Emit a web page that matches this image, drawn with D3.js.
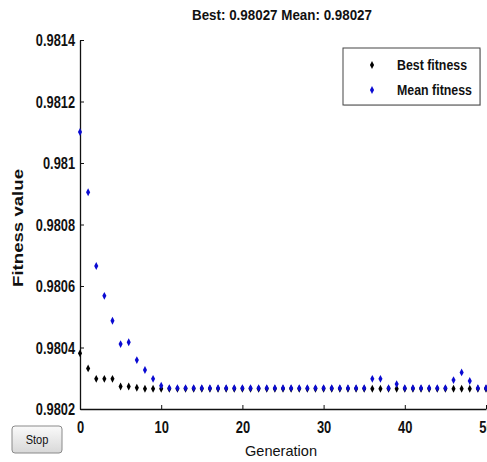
<!DOCTYPE html>
<html>
<head>
<meta charset="utf-8">
<script src="https://cdn.jsdelivr.net/npm/d3@7"></script>
<style>
  body { margin: 0; background: #fff; }
  svg { display: block; }
  text { font-family: "Liberation Sans", Arial, sans-serif; fill: #111; }
</style>
</head>
<body>
<script>
// generations 0..50
var generations = [0,1,2,3,4,5,6,7,8,9,10,11,12,13,14,15,16,17,18,19,20,21,22,23,24,25,
  26,27,28,29,30,31,32,33,34,35,36,37,38,39,40,41,42,43,44,45,46,47,48,49,50];

var bestFitness = [0.980381,0.980332,0.980298,0.980298,0.980298,0.980273,0.980273,0.980269,0.980266,0.980266,
  0.980266,0.980266,0.980266,0.980266,0.980266,0.980266,0.980266,0.980266,0.980266,0.980266,
  0.980266,0.980266,0.980266,0.980266,0.980266,0.980266,0.980266,0.980266,0.980266,0.980266,
  0.980266,0.980266,0.980266,0.980266,0.980266,0.980266,0.980266,0.980266,0.980266,0.980266,
  0.980266,0.980266,0.980266,0.980266,0.980266,0.980266,0.980266,0.980266,0.980266,0.980266,0.980266];

var meanFitness = [0.981101,0.980905,0.980665,0.980568,0.980487,0.980411,0.980417,0.980359,0.980327,0.980298,
  0.980276,0.980268,0.980268,0.980268,0.980268,0.980268,0.980268,0.980268,0.980268,0.980268,
  0.980268,0.980268,0.980268,0.980268,0.980268,0.980268,0.980268,0.980268,0.980268,0.980268,
  0.980268,0.980268,0.980268,0.980268,0.980268,0.980268,0.980298,0.980298,0.980268,0.980281,
  0.980268,0.980268,0.980268,0.980268,0.980268,0.980268,0.980294,0.980319,0.980291,0.980268,0.980268];

var yTicks = [0.9802,0.9804,0.9806,0.9808,0.981,0.9812,0.9814];
var xTicks = [0,10,20,30,40,50];
var titleText = "Best: 0.98027 Mean: 0.98027";
var seriesNames = ["Best fitness","Mean fitness"];
var seriesColors = ["#000000","#0a0ad2"];

var W = 487, H = 462;
var svg = d3.select("body").append("svg").attr("width", W).attr("height", H);

var x = d3.scaleLinear().domain([0,50]).range([80,486]);
var y = d3.scaleLinear().domain([0.9802,0.9814]).range([409,40]);

// squash text horizontally, like the narrow matlab font
function squeeze(sel, k) {
  sel.each(function() {
    var w = this.getComputedTextLength();
    d3.select(this).attr("textLength", w * k).attr("lengthAdjust", "spacingAndGlyphs");
  });
}
function fitTo(sel, w) {
  sel.attr("textLength", w).attr("lengthAdjust", "spacingAndGlyphs");
}

// axes
var yAxis = svg.append("g").attr("transform","translate(80,0)")
  .call(d3.axisLeft(y).tickValues(yTicks).tickSizeInner(-4).tickSizeOuter(0).tickPadding(5)
        .tickFormat(function(d){ return String(+d.toFixed(4)); }));
var xAxis = svg.append("g").attr("transform","translate(0,409)")
  .call(d3.axisBottom(x).tickValues(xTicks).tickSizeInner(-4).tickSizeOuter(0).tickPadding(12));

[yAxis, xAxis].forEach(function(g){
  g.select(".domain").attr("stroke","#111").attr("stroke-width",1.3);
  g.selectAll(".tick line").attr("stroke","#111");
  g.selectAll(".tick text").attr("font-size",16).attr("font-weight","bold")
    .attr("font-family","Liberation Sans, Arial, sans-serif").attr("fill","#111");
});
yAxis.selectAll(".tick text").attr("dy","0.36em").call(squeeze, 0.8);
xAxis.selectAll(".tick text").attr("font-size",17).call(squeeze, 0.76);

// points
var diamond = d3.symbol().type(d3.symbolDiamond).size(18);
var series = [bestFitness, meanFitness];
series.forEach(function(vals, i) {
  svg.append("g").selectAll("path").data(generations).enter().append("path")
    .attr("d", diamond)
    .attr("transform", function(d){ return "translate(" + x(d) + "," + y(vals[d]) + ") scale(0.9,1)"; })
    .attr("fill", seriesColors[i]);
});

// title and labels
svg.append("text").attr("x",282).attr("y",20).attr("text-anchor","middle")
  .attr("font-size",15).attr("font-weight","bold").text(titleText).call(fitTo, 180);
svg.append("text").attr("x",281).attr("y",456).attr("text-anchor","middle")
  .attr("font-size",15).text("Generation").call(fitTo, 72);
svg.append("text").attr("transform","translate(23,228) rotate(-90)").attr("text-anchor","middle")
  .attr("font-size",15).attr("font-weight","bold").text("Fitness value").call(fitTo, 118);

// legend
var leg = svg.append("g");
leg.append("rect").attr("x",344).attr("y",49).attr("width",137).attr("height",57)
  .attr("fill","#ddd");
leg.append("rect").attr("x",343).attr("y",48).attr("width",137).attr("height",57)
  .attr("fill","#fff").attr("stroke","#444").attr("stroke-width",1);
var legW = [70, 75];
seriesNames.forEach(function(name, i) {
  var ly = 65 + i * 25;
  leg.append("path").attr("d", diamond)
    .attr("transform","translate(372," + ly + ") scale(0.9,1)").attr("fill", seriesColors[i]);
  leg.append("text").attr("x",397).attr("y",ly + 5).attr("font-size",15).attr("font-weight","bold")
    .text(name).call(fitTo, legW[i]);
});

// stop button
var btn = svg.append("g");
var grad = svg.append("defs").append("linearGradient").attr("id","btng")
  .attr("x1",0).attr("y1",0).attr("x2",0).attr("y2",1);
grad.append("stop").attr("offset","0%").attr("stop-color","#fafafa");
grad.append("stop").attr("offset","100%").attr("stop-color","#d8d8d8");
btn.append("rect").attr("x",12).attr("y",426).attr("width",50).attr("height",27).attr("rx",3)
  .attr("fill","url(#btng)").attr("stroke","#8a8a8a");
btn.append("text").attr("x",37).attr("y",444).attr("text-anchor","middle").attr("font-size",13)
  .text("Stop").call(squeeze, 0.85);
</script>
</body>
</html>
